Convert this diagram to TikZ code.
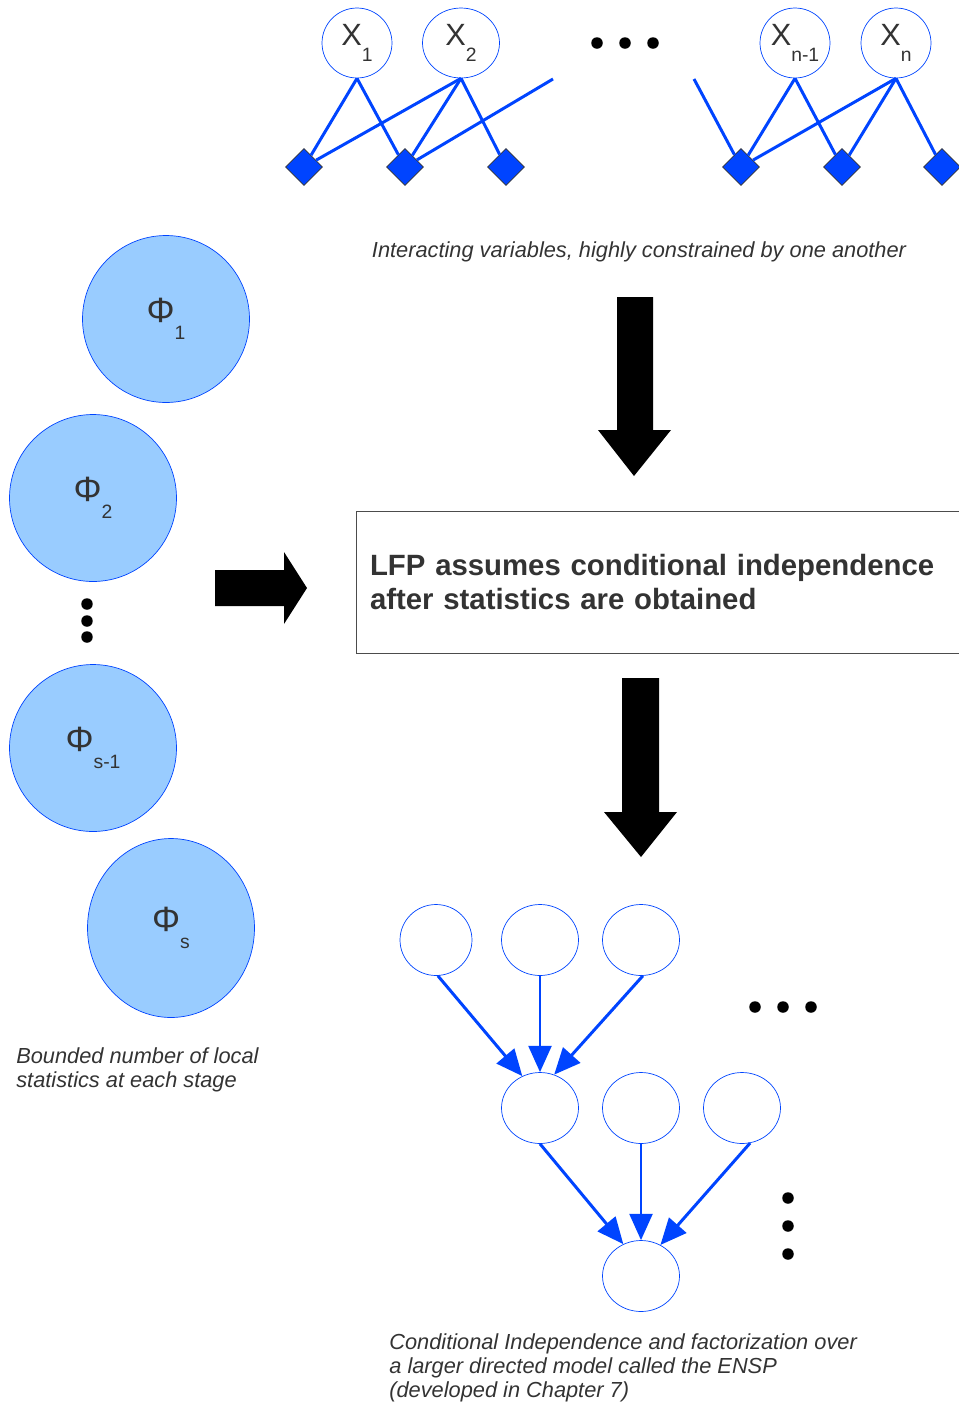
\documentclass[tikz,border=0pt]{standalone}
\usepackage{fontspec}
\setmainfont{Liberation Sans}
\usetikzlibrary{arrows.meta}
\usetikzlibrary{shapes.geometric}

\definecolor{fgblue}{RGB}{0,68,255}
\definecolor{statblue}{RGB}{153,204,255}
\definecolor{txtgray}{RGB}{51,51,51}

\newcommand{\lowidx}[2][11]{\raisebox{-9.5pt}{\fontsize{#1}{#1}\selectfont #2}}

\tikzset{
  var/.style={draw=fgblue, ellipse, minimum width=1.4cm, minimum height=1.4cm, inner sep=0pt,
    text=txtgray, font=\fontsize{17.5}{17.5}\selectfont},
  fac/.style={draw=black!80, fill=fgblue, diamond, minimum size=0.74cm, inner sep=0pt},
  stat/.style={draw=fgblue, fill=statblue, ellipse, minimum width=3.34cm, minimum height=3.34cm,
    inner sep=0pt, text=txtgray, font=\fontsize{20}{20}\selectfont},
  dag/.style={draw=fgblue, ellipse, minimum width=1.54cm, minimum height=1.42cm},
  edge/.style={fgblue, line width=1.7pt},
  dagarrow/.style={fgblue, line width=1.7pt, -{Triangle[length=15pt,width=13pt]}},
  caption/.style={text=txtgray, align=left, inner sep=0pt, font=\fontsize{12.4}{13.4}\selectfont\itshape},
  dot/.style={fill=black, circle, inner sep=0pt, minimum size=0.23cm}
}

\begin{document}
\begin{tikzpicture}[x=0.02cm, y=-0.02cm]
\useasboundingbox (0,0) rectangle (958,1404);

% interacting variables
\node[var] (x1) at (357,43) {X\lowidx{1}};
\node[var, minimum width=1.54cm] (x2) at (461,43) {X\lowidx{2}};
\node[var] (xm) at (795,43) {X\lowidx{n-1}};
\node[var] (xn) at (896,43) {X\lowidx{n}};
\node[fac] (d1) at (304,167) {};
\node[fac] (d2) at (405,167) {};
\node[fac] (d3) at (506,167) {};
\node[fac] (d4) at (741,167) {};
\node[fac] (d5) at (842,167) {};
\node[fac] (d6) at (942,167) {};
\coordinate (ol) at (553,79);
\coordinate (or) at (694,79);
\node[dot] (h1) at (597,43) {};
\node[dot] (h2) at (625,43) {};
\node[dot] (h3) at (653,43) {};

\draw[edge] (x1.south) to (d1);
\draw[edge] (x1.south) to (d2);
\draw[edge] (x2.south) to (d1);
\draw[edge] (x2.south) to (d2);
\draw[edge] (x2.south) to (d3);
\draw[edge] (d2) to (ol);
\draw[edge] (or) to (d4);
\draw[edge] (xm.south) to (d4);
\draw[edge] (xm.south) to (d5);
\draw[edge] (xn.south) to (d4);
\draw[edge] (xn.south) to (d5);
\draw[edge] (xn.south) to (d6);

\node[caption, anchor=base] (cap1) at (639,257) {Interacting variables, highly constrained by one another};

% big arrows
\fill (617,297) -- (653,297) -- (653,430) -- (671,430) -- (634,476) -- (598,430) -- (617,430) -- cycle;
\fill (622,678) -- (659,678) -- (659,812) -- (677,812) -- (641,857) -- (604,812) -- (622,812) -- cycle;
\fill (215,570) -- (284,570) -- (284,552) -- (307,588) -- (284,624) -- (284,606) -- (215,606) -- cycle;

% the box
\node[draw=black!70, minimum width=12.12cm, minimum height=2.84cm, inner xsep=0.28cm,
  text width=11.56cm, align=left, text=txtgray, font=\fontsize{16.7}{19.9}\selectfont\bfseries]
  (lfp) at (659,582) {LFP assumes conditional independence\\after statistics are obtained};

% local statistics
\node[stat] (p1) at (166,319) {Φ\lowidx{1}};
\node[stat] (p2) at (93,498) {Φ\lowidx{2}};
\node[stat] (p3) at (93,748) {Φ\lowidx{s-1}};
\node[stat, minimum height=3.58cm] (p4) at (171,928) {Φ\lowidx{s}};
\node[dot] (v1) at (87,604) {};
\node[dot] (v2) at (87,621) {};
\node[dot] (v3) at (87,637) {};
\node[caption, anchor=base west] (cap2) at (16,1087) {Bounded number of local\\statistics at each stage};

% directed model
\node[dag, minimum width=1.44cm] (t1) at (436,940) {};
\node[dag] (t2) at (540,940) {};
\node[dag] (t3) at (641,940) {};
\node[dag] (m1) at (540,1108) {};
\node[dag] (m2) at (641,1108) {};
\node[dag] (m3) at (742,1108) {};
\node[dag] (b1) at (641,1276) {};
\node[dot] (r1) at (755,1007) {};
\node[dot] (r2) at (783,1007) {};
\node[dot] (r3) at (811,1007) {};
\node[dot] (w1) at (788,1198) {};
\node[dot] (w2) at (788,1226) {};
\node[dot] (w3) at (788,1254) {};

\draw[dagarrow] (t1.-87) to (m1.119);
\draw[dagarrow] (t2.south) to (m1.north);
\draw[dagarrow] (t3.-87) to (m1.67);
\draw[dagarrow] (m1.south) to (b1.119);
\draw[dagarrow] (m2.south) to (b1.north);
\draw[dagarrow] (m3.-77) to (b1.58);

\node[caption, anchor=base west] (cap3) at (389,1397) {Conditional Independence and factorization over\\a larger directed model called the ENSP\\(developed in Chapter 7)};
\end{tikzpicture}
\end{document}
